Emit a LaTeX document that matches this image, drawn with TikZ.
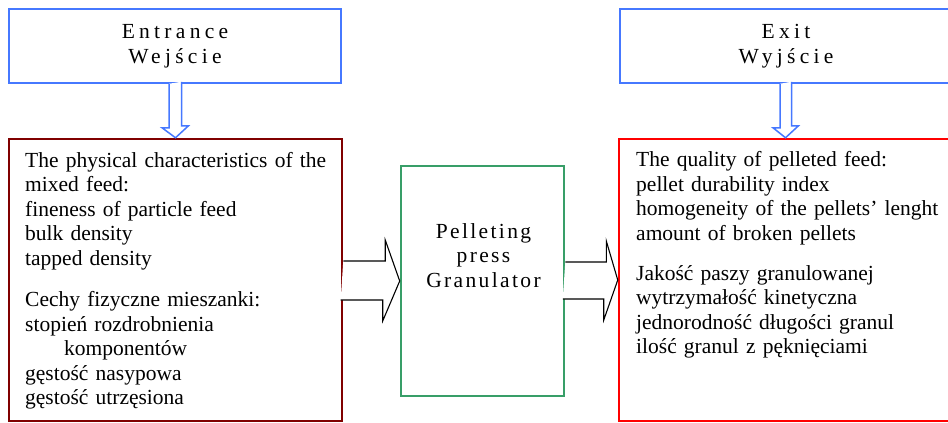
\documentclass[tikz,border=0pt]{standalone}
\usepackage{fontspec}
\setmainfont{Liberation Serif}
\usetikzlibrary{calc}
\definecolor{blueline}{RGB}{70,120,255}
\definecolor{darkred}{RGB}{128,0,0}
\definecolor{boxgreen}{RGB}{56,158,104}
\definecolor{brightred}{RGB}{255,0,0}
\tikzset{
  txtfont/.style={font=\fontsize{21.5}{24.5}\selectfont},
  topbox/.style={draw=blueline, line width=1.5pt, fill=white, minimum width=332pt, minimum height=74pt, inner sep=0pt, align=center, txtfont},
  bigbox/.style={line width=2.5pt, minimum width=333pt, minimum height=282pt, inner sep=0pt},
  pressbox/.style={draw=boxgreen, line width=2.6pt, minimum width=163pt, minimum height=230pt, inner sep=0pt},
  bodytext/.style={txtfont, inner sep=0pt, text width=310pt, align=left, anchor=base west},
  downarrow/.style={draw=blueline, line width=1.5pt, fill=white, line join=miter},
  sidearrow/.style={draw=black, line width=1.1pt, fill=white, line join=miter},
}
\begin{document}
\begin{tikzpicture}[x=1pt, y=-1pt]
\useasboundingbox (0,0) rectangle (948,423);
\clip (0,0) rectangle (948,423);
\fill[white] (0,0) rectangle (948,423);
% boxes
\node[topbox] (entr) at (175,46) {\addfontfeature{LetterSpace=20}Entrance\\\addfontfeature{LetterSpace=20}Wejście};
\node[topbox] (exit) at (786,46) {\addfontfeature{LetterSpace=20}Exit\\\addfontfeature{LetterSpace=20}Wyjście};
\node[bigbox, draw=darkred] (lbox) at (175.5,280) {};
\node[pressbox] (press) at (482.5,281) {};
\node[bigbox, draw=brightred] (rbox) at (785.5,280) {};
% texts
\node[bodytext] (ltop) at (25,167) {The physical characteristics of the\\mixed feed:\\fineness of particle feed\\bulk density\\tapped density};
\node[bodytext] (lbot) at (25,306.5) {Cechy fizyczne mieszanki:\\stopień rozdrobnienia\\\hspace*{39pt}komponentów\\gęstość nasypowa\\gęstość utrzęsiona};
\node[bodytext] (rtop) at (636,166.5) {The quality of pelleted feed:\\pellet durability index\\homogeneity of the pellets’ lenght\\amount of broken pellets};
\node[bodytext] (rbot) at (636,280) {Jakość paszy granulowanej\\wytrzymałość kinetyczna\\jednorodność długości granul\\ilość granul z pęknięciami};
\node[txtfont, inner sep=0pt, text width=160pt, align=center, anchor=base] (presstxt) at (483.5,238) {\addfontfeature{LetterSpace=11}Pelleting\\\addfontfeature{LetterSpace=11}press\\\addfontfeature{LetterSpace=11}Granulator};
% down arrows
\draw[downarrow] ($(entr.south)+(-6,0)$) -- ++(0,44) -- ++(-7,0) -- (lbox.north) -- ++(13,-12) -- ++(-7,0) -- ++(0,-44);
\draw[downarrow] ($(exit.south)+(-6,0)$) -- ++(0,44) -- ++(-7,0) -- (rbox.north) -- ++(13,-12) -- ++(-7,0) -- ++(0,-44);
% side arrows
\draw[sidearrow] ($(lbox.east)+(0,-19)$) -- ++(42,0) -- ++(0,-21) -- (press.west) -- ++(-17,40) -- ++(0,-21) -- ++(-42,0);
\draw[sidearrow] ($(press.east)+(0,-19)$) -- ++(41,0) -- ++(0,-21) -- (rbox.west) -- ++(-14,40) -- ++(0,-21) -- ++(-41,0);
\end{tikzpicture}
\end{document}
